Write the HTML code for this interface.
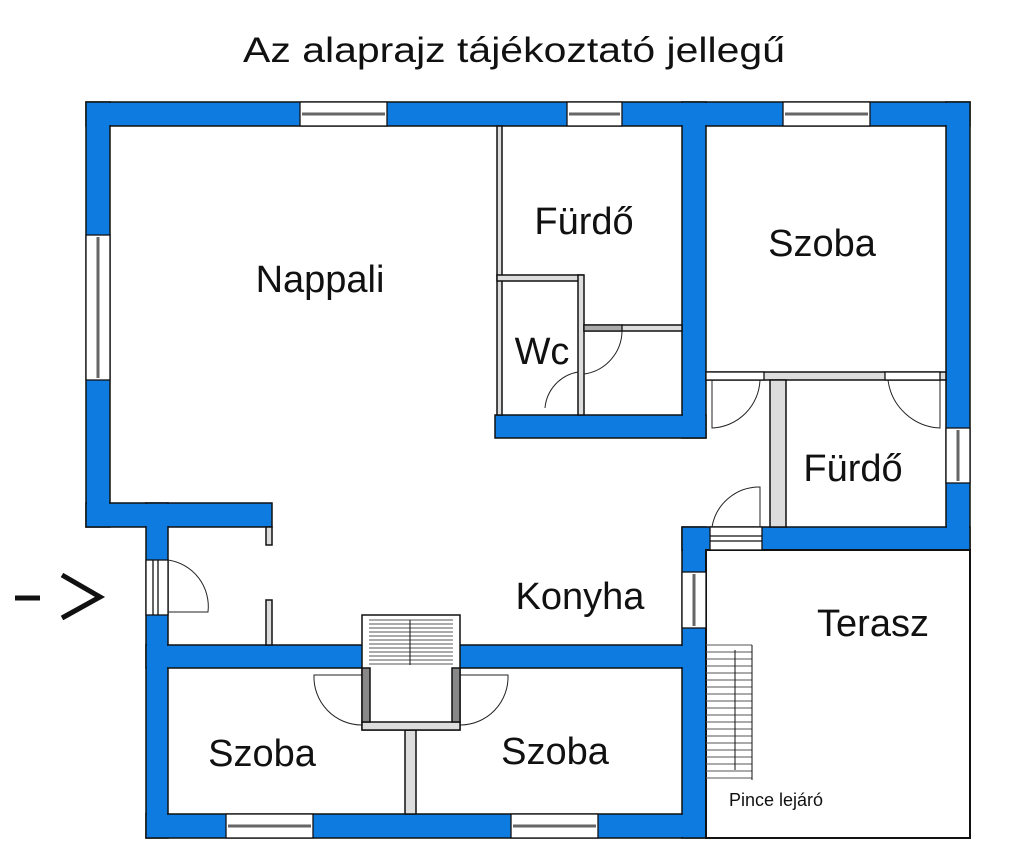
<!DOCTYPE html>
<html><head><meta charset="utf-8"><style>
html,body{margin:0;padding:0;background:#fff;width:1024px;height:858px;overflow:hidden}
svg{display:block}
text{font-family:"Liberation Sans",sans-serif;fill:#111}
</style></head><body>
<svg width="1024" height="858" viewBox="0 0 1024 858" xmlns="http://www.w3.org/2000/svg">
<text x="514" y="62" font-size="35" text-anchor="middle" textLength="542" lengthAdjust="spacingAndGlyphs">Az alaprajz tájékoztató jellegű</text>
<g fill="#0e7be0" stroke="#111" stroke-width="1.5">
<rect x="86" y="102" width="884" height="24"/>
<rect x="86" y="102" width="24" height="425"/>
<rect x="86" y="503" width="186" height="24"/>
<rect x="146" y="503" width="22" height="335"/>
<rect x="146" y="814" width="560" height="24"/>
<rect x="146" y="645" width="560" height="23"/>
<rect x="682" y="527" width="24" height="311"/>
<rect x="682" y="102" width="24" height="336"/>
<rect x="495" y="415" width="211" height="23"/>
<rect x="946" y="102" width="24" height="448"/>
<rect x="682" y="527" width="288" height="23"/>
</g>
<g fill="#0e7be0">
<rect x="87" y="103" width="882" height="22"/>
<rect x="87" y="103" width="22" height="423"/>
<rect x="87" y="504" width="184" height="22"/>
<rect x="147" y="504" width="20" height="333"/>
<rect x="147" y="815" width="558" height="22"/>
<rect x="147" y="646" width="558" height="21"/>
<rect x="683" y="528" width="22" height="309"/>
<rect x="683" y="103" width="22" height="334"/>
<rect x="496" y="416" width="209" height="21"/>
<rect x="947" y="103" width="22" height="446"/>
<rect x="683" y="528" width="286" height="21"/>
</g>
<!-- thin walls -->
<g fill="#ddd" stroke="#111" stroke-width="1.5">
<rect x="497" y="126" width="5" height="289"/>
<rect x="497" y="275" width="86" height="6"/>
<rect x="578" y="275" width="6" height="140"/>
<rect x="584" y="325" width="98" height="6"/>
<rect x="706" y="372" width="240" height="8"/>
<rect x="770" y="380" width="16" height="147"/>
<rect x="266" y="527" width="6" height="18"/>
<rect x="266" y="600" width="6" height="45"/>
<rect x="405" y="730" width="11" height="84"/>
</g>
<rect x="706" y="550" width="264" height="288" fill="#fff" stroke="#111" stroke-width="2"/>
<!-- windows -->
<g fill="#fff" stroke="#111" stroke-width="1.3">
<rect x="300" y="102" width="87" height="24"/><line x1="302" y1="114" x2="385" y2="114" stroke="#666" stroke-width="3"/>
<rect x="567" y="102" width="55" height="24"/><line x1="569" y1="114" x2="620" y2="114" stroke="#666" stroke-width="3"/>
<rect x="783" y="102" width="87" height="24"/><line x1="785" y1="114" x2="868" y2="114" stroke="#666" stroke-width="3"/>
<rect x="86" y="235" width="24" height="145"/><line x1="98" y1="237" x2="98" y2="378" stroke="#666" stroke-width="3"/>
<rect x="226" y="814" width="87" height="24"/><line x1="228" y1="826" x2="311" y2="826" stroke="#666" stroke-width="3"/>
<rect x="511" y="814" width="87" height="24"/><line x1="513" y1="826" x2="596" y2="826" stroke="#666" stroke-width="3"/>
<rect x="946" y="428" width="24" height="55"/><line x1="958" y1="430" x2="958" y2="481" stroke="#666" stroke-width="3"/>
<rect x="682" y="572" width="24" height="56"/><line x1="694" y1="574" x2="694" y2="626" stroke="#666" stroke-width="3"/>
<rect x="146" y="560" width="22" height="55"/><line x1="153" y1="560" x2="153" y2="615"/><line x1="158" y1="560" x2="158" y2="615"/>
<rect x="710" y="527" width="52" height="23"/><line x1="710" y1="536" x2="762" y2="536"/><line x1="710" y1="541" x2="762" y2="541"/>
</g>
<g fill="none" stroke="#222" stroke-width="1">
<path d="M168 560 A47 47 0 0 1 208 612 L168 612"/>
<path d="M584 331 L584 374 A44 44 0 0 0 622 331"/>
<path d="M578 372 A40 40 0 0 0 545 408"/>
<path d="M712 380 L712 428 A50 50 0 0 0 760 380"/>
<path d="M888 380 A55 55 0 0 0 940 428 L940 380"/>
<path d="M712 527 A48 48 0 0 1 760 487 L760 527"/>
<path d="M362 725 A48 48 0 0 1 314 675 L362 675"/>
<path d="M460 725 A48 48 0 0 0 508 675 L460 675"/>
</g>
<g fill="#fff" stroke="#111" stroke-width="1.3">
<rect x="706" y="372" width="58" height="8"/><rect x="885" y="372" width="55" height="8"/>
<rect x="584" y="325" width="38" height="6" fill="#aaa"/>
</g>
<g stroke="#111" stroke-width="1.5" fill="#fff">
<rect x="362" y="615" width="98" height="115"/>
<rect x="362" y="722" width="98" height="8" fill="#ddd"/>
<rect x="362" y="668" width="8" height="54" fill="#888"/>
<rect x="452" y="668" width="8" height="54" fill="#888"/>
</g>
<g stroke="#555" stroke-width="1">
<line x1="369" y1="620" x2="453" y2="620"/><line x1="369" y1="624" x2="453" y2="624"/><line x1="369" y1="628" x2="453" y2="628"/><line x1="369" y1="632" x2="453" y2="632"/><line x1="369" y1="636" x2="453" y2="636"/><line x1="369" y1="640" x2="453" y2="640"/><line x1="369" y1="644" x2="453" y2="644"/><line x1="369" y1="648" x2="453" y2="648"/><line x1="369" y1="652" x2="453" y2="652"/><line x1="369" y1="656" x2="453" y2="656"/><line x1="369" y1="660" x2="453" y2="660"/><line x1="369" y1="664" x2="453" y2="664"/>
<line x1="410" y1="620" x2="410" y2="665" stroke="#111"/>
</g>
<g stroke="#555" stroke-width="1">
<line x1="706" y1="645" x2="752" y2="645"/><line x1="706" y1="652" x2="752" y2="652"/><line x1="706" y1="659" x2="752" y2="659"/><line x1="706" y1="666" x2="752" y2="666"/><line x1="706" y1="673" x2="752" y2="673"/><line x1="706" y1="680" x2="752" y2="680"/><line x1="706" y1="687" x2="752" y2="687"/><line x1="706" y1="694" x2="752" y2="694"/><line x1="706" y1="701" x2="752" y2="701"/><line x1="706" y1="708" x2="752" y2="708"/><line x1="706" y1="715" x2="752" y2="715"/><line x1="706" y1="722" x2="752" y2="722"/><line x1="706" y1="729" x2="752" y2="729"/><line x1="706" y1="736" x2="752" y2="736"/><line x1="706" y1="743" x2="752" y2="743"/><line x1="706" y1="750" x2="752" y2="750"/><line x1="706" y1="757" x2="752" y2="757"/><line x1="706" y1="764" x2="752" y2="764"/><line x1="706" y1="771" x2="752" y2="771"/><line x1="706" y1="778" x2="752" y2="778"/>
<line x1="752" y1="645" x2="752" y2="780" stroke="#111"/>
<line x1="735" y1="650" x2="735" y2="770" stroke="#111"/>
</g>
<g font-size="38">
<text x="320" y="292" text-anchor="middle">Nappali</text>
<text x="584" y="234" text-anchor="middle">Fürdő</text>
<text x="822" y="256" text-anchor="middle">Szoba</text>
<text x="542" y="364" text-anchor="middle">Wc</text>
<text x="853" y="481" text-anchor="middle">Fürdő</text>
<text x="580" y="609" text-anchor="middle">Konyha</text>
<text x="873" y="636" text-anchor="middle">Terasz</text>
<text x="262" y="766" text-anchor="middle">Szoba</text>
<text x="555" y="764" text-anchor="middle">Szoba</text>
</g>
<text x="776" y="806" font-size="18" text-anchor="middle">Pince lejáró</text>
<g stroke="#111" stroke-width="5" fill="none">
<line x1="15" y1="598" x2="40" y2="598"/>
<polyline points="62,575 100,597 62,618"/>
</g>
</svg>
</body></html>
